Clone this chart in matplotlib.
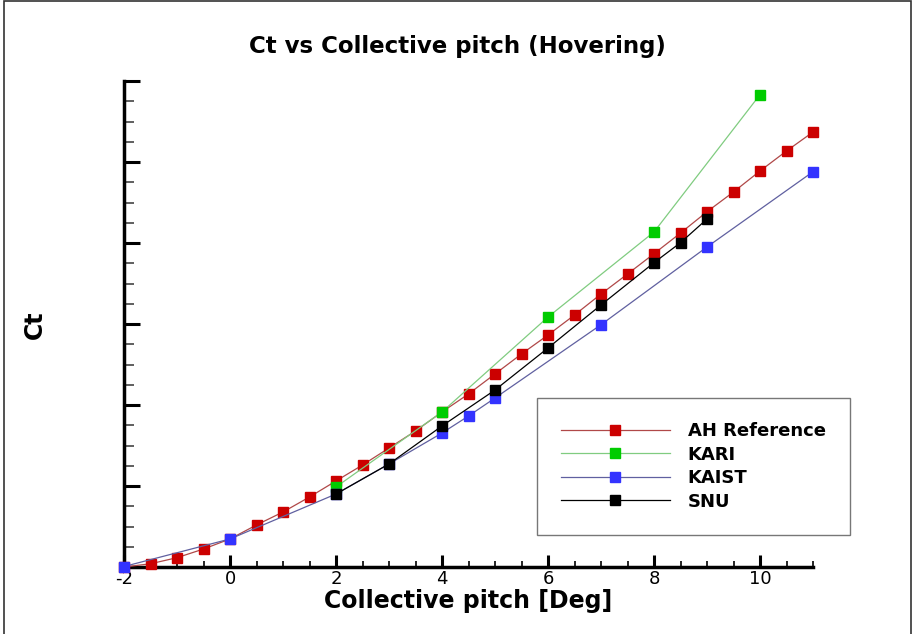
import numpy as np
import matplotlib
matplotlib.use("Agg")
import matplotlib.pyplot as plt
from matplotlib.patches import Rectangle
from matplotlib.ticker import MultipleLocator, NullFormatter

plt.rcParams['font.family'] = ['DejaVu Sans']
plt.rcParams['axes.unicode_minus'] = False

""" Data (Ct read off the picture, 1 major tick = 0.001) """
pitch_ah = [-2, -1.5, -1, -0.5, 0, 0.5, 1, 1.5, 2, 2.5, 3, 3.5, 4, 4.5, 5, 5.5,
            6, 6.5, 7, 7.5, 8, 8.5, 9, 9.5, 10, 10.5, 11]
ct_ah = [0.0000, 0.00004, 0.000115, 0.000222, 0.000346, 0.000519, 0.000679, 0.000864,
         0.001062, 0.001259, 0.001469, 0.001679, 0.001914, 0.002136, 0.002383, 0.002630,
         0.002864, 0.003111, 0.003370, 0.003617, 0.003868, 0.004123, 0.004386, 0.004630,
         0.004889, 0.005136, 0.005370]

pitch_kari = [2, 4, 6, 8, 10]
ct_kari = [0.000988, 0.001914, 0.003086, 0.004136, 0.005831]

pitch_kaist = [-2, 0, 2, 3, 4, 4.5, 5, 7, 9, 11]
ct_kaist = [0.000006, 0.000346, 0.000901, 0.001272, 0.001654, 0.001864, 0.002086,
            0.002991, 0.003951, 0.004880]

pitch_snu = [2, 3, 4, 5, 6, 7, 8, 8.5, 9]
ct_snu = [0.000901, 0.001272, 0.001741, 0.002185, 0.002704, 0.003235, 0.003757,
          0.004004, 0.004296]

series = [
    ("AH Reference", pitch_ah, ct_ah, "#b04848", "#cc0000"),
    ("KARI", pitch_kari, ct_kari, "#80cc80", "#00cc00"),
    ("KAIST", pitch_kaist, ct_kaist, "#6060a0", "#3333ff"),
    ("SNU", pitch_snu, ct_snu, "#000000", "#000000"),
]

fig = plt.figure(figsize=(9.15, 6.34), dpi=100)
ax = fig.add_axes([124 / 915, 1 - 567 / 634, (813 - 124) / 915, (567 - 81) / 634])

for name, x, y, lc, mc in series:
    ax.plot(x, y, color=lc, lw=0.9, marker="s", ms=7.5, mfc=mc, mec=mc,
            label=name, clip_on=False, zorder=3)

ax.set_xlim(-2, 11)
ax.set_ylim(0, 0.006)

# axis look
for s in ["top", "right"]:
    ax.spines[s].set_visible(False)
for s in ["left", "bottom"]:
    ax.spines[s].set_linewidth(2.5)
ax.xaxis.set_major_locator(MultipleLocator(2))
ax.xaxis.set_minor_locator(MultipleLocator(0.5))
ax.yaxis.set_major_locator(MultipleLocator(0.001))
ax.yaxis.set_minor_locator(MultipleLocator(0.00025))
ax.yaxis.set_major_formatter(NullFormatter())
ax.tick_params(axis="x", which="major", direction="in", length=8.5, width=2.2)
ax.tick_params(axis="x", which="minor", direction="in", length=4.5, width=1.2)
ax.tick_params(axis="y", which="major", direction="in", length=11.5, width=2.2)
ax.tick_params(axis="y", which="minor", direction="in", length=7, width=1.2,
               color="#444444")
ax.tick_params(axis="x", labelsize=13, pad=2)

ax.set_xlabel("Collective pitch [Deg]", fontsize=17, fontweight="bold", labelpad=1)
fig.text(35 / 915, 1 - 325 / 634, "Ct", rotation=90, ha="center", va="center",
         fontsize=17, fontweight="bold")
fig.text(0.5, 1 - 46 / 634, "Ct vs Collective pitch (Hovering)",
         ha="center", va="center", fontsize=16.5, fontweight="bold")

leg = ax.legend(loc="lower right", bbox_to_anchor=((850 - 124) / 689, (567 - 535) / 486),
                prop={"size": 13, "weight": "bold"}, frameon=True, fancybox=False,
                edgecolor="#555555", handlelength=6.0, handletextpad=1.0,
                labelspacing=0.3, borderpad=1.35, borderaxespad=0)
leg.get_frame().set_linewidth(1)

# outer frame
fig.patches.append(Rectangle((4 / 915, -0.1), 907 / 915, 1.1 - 1 / 634,
                             transform=fig.transFigure, fill=False, lw=1.2,
                             edgecolor="#333333"))

fig.savefig("out.png", dpi=100)
